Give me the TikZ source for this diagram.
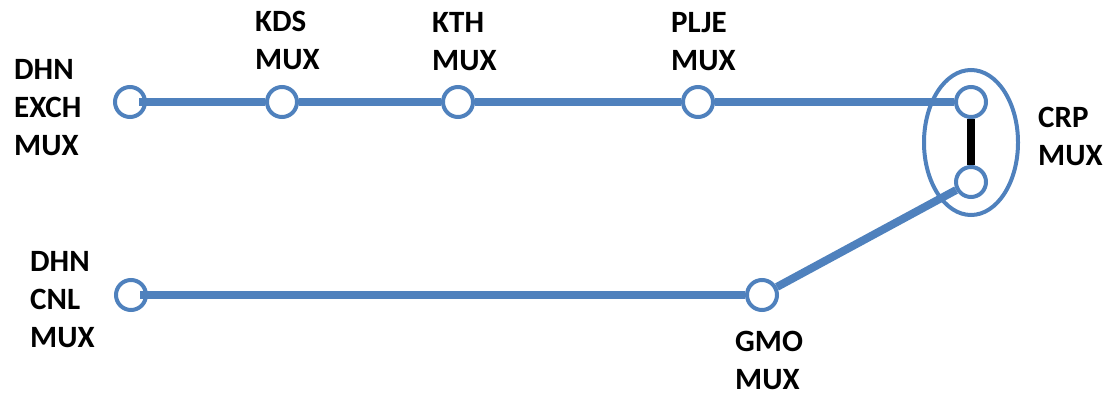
\documentclass[tikz,border=0pt]{standalone}
\usepackage{fontspec}
\setmainfont{Carlito}
\usetikzlibrary{positioning}

\definecolor{muxblue}{HTML}{4F81BD}
\tikzset{
  mux/.style={circle, draw=muxblue, line width=4pt, fill=white, minimum size=30pt, inner sep=0pt},
  link/.style={muxblue, line width=8pt},
  tag/.style={align=left, inner sep=0pt, anchor=north west, font=\fontsize{31}{38}\selectfont\bfseries}
}

\begin{document}
\begin{tikzpicture}[x=1pt, y=-1pt]
\useasboundingbox (0,0) rectangle (1108,393);
% stations
\node [mux] (exch) at (130,102) {};
\node [mux] (kds) at (282,102) {};
\node [mux] (kth) at (458,102) {};
\node [mux] (plje) at (698,102) {};
\node [mux] (crpa) at (971,102) {};
\node [mux] (crpb) at (971,182) {};
\node [mux] (cnl) at (131,295) {};
\node [mux] (gmo) at (762,295) {};
% CRP group
\draw [muxblue, line width=4pt] (971,142.5) ellipse (47 and 72.5);
% links
\draw [link, shorten <=-8pt] (exch) -- (kds);
\draw [link] (kds) -- (kth);
\draw [link] (kth) -- (plje);
\draw [link] (plje) -- (crpa);
\draw [black, line width=8pt] (crpa) -- (crpb);
\draw [link, shorten <=-8pt] (cnl) -- (gmo);
\draw [link] (gmo) -- (crpb);
% names
\node [tag] (exchtag) at (14,59) {DHN\\EXCH\\MUX};
\node [tag] (kdstag) at (255,11) {KDS\\MUX};
\node [tag] (kthtag) at (432,12) {KTH\\MUX};
\node [tag] (pljetag) at (671,12) {PLJE\\MUX};
\node [tag] (crptag) at (1038,107) {CRP\\MUX};
\node [tag] (cnltag) at (30,251) {DHN\\CNL\\MUX};
\node [tag] (gmotag) at (735,331) {GMO\\MUX};
\end{tikzpicture}
\end{document}
